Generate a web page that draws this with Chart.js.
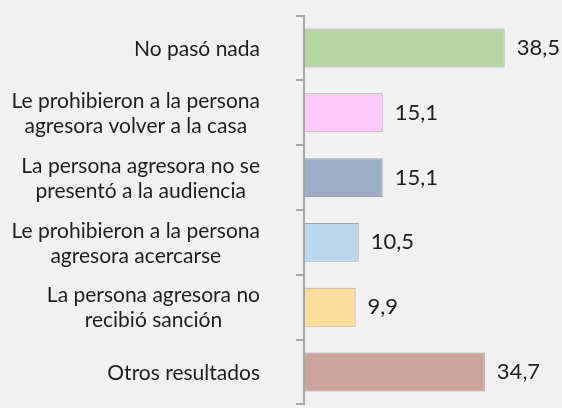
<!DOCTYPE html>
<html>
<head>
<meta charset="utf-8">
<script src="https://cdn.jsdelivr.net/npm/chart.js@4/dist/chart.umd.min.js"></script>
<style>
  html, body { margin: 0; padding: 0; background: #f1f1f1; overflow: hidden; }
  #wrap { position: relative; width: 562px; height: 420px; }
</style>
</head>
<body>
<div id="wrap"><canvas id="c"></canvas></div>
<script>
const categories = [
  ["No pasó nada"],
  ["Le prohibieron a la persona", "agresora volver a la casa"],
  ["La persona agresora no se", "presentó a la audiencia"],
  ["Le prohibieron a la persona", "agresora acercarse"],
  ["La persona agresora no", "recibió sanción"],
  ["Otros resultados"]
];
const values = [38.5, 15.1, 15.1, 10.5, 9.9, 34.7];
const barColors = ["#b5d5a5", "#fdc9fd", "#9eaec8", "#bad6ee", "#fddd9b", "#cca49b"];
const xMax = 49.5;

const FONT = "Lato, 'Open Sans', sans-serif";
const FSIZE = 21;
const VSIZE = 22;

const labelPlugin = {
  id: 'labels',
  afterDatasetsDraw(chart) {
    const ctx = chart.ctx;
    const ys = chart.scales.y;
    ctx.save();
    ctx.font = FSIZE + "px " + FONT;
    ctx.fillStyle = "#1e1e1e";
    ctx.textBaseline = "middle";
    // category labels: each block right-aligned, lines centered within block
    const blockRight = ys.right - 44;
    const lineH = 25;
    categories.forEach((lines, i) => {
      const y = ys.getPixelForValue(i) + 1;
      const w = Math.max(...lines.map(l => ctx.measureText(l).width));
      const cx = blockRight - w / 2;
      ctx.textAlign = "center";
      lines.forEach((l, k) => {
        const ly = y + (k - (lines.length - 1) / 2) * lineH;
        ctx.fillText(l, cx, ly);
      });
    });
    // value labels
    ctx.font = VSIZE + "px " + FONT;
    const meta = chart.getDatasetMeta(0);
    ctx.textAlign = "left";
    meta.data.forEach((bar, i) => {
      const txt = values[i].toFixed(1).replace(".", ",");
      ctx.fillText(txt, bar.x + 12, bar.y);
    });
    ctx.restore();
  }
};

new Chart(document.getElementById('c'), {
  type: 'bar',
  data: {
    labels: categories,
    datasets: [{
      data: values,
      backgroundColor: barColors,
      borderColor: "#a5a5a5",
      borderWidth: 1,
      borderSkipped: false,
      categoryPercentage: 0.6,
      barPercentage: 1.0
    }]
  },
  options: {
    indexAxis: 'y',
    responsive: true,
    maintainAspectRatio: false,
    animation: false,
    layout: { padding: { top: 14, bottom: 8, left: 0, right: 0 } },
    plugins: { legend: { display: false }, tooltip: { enabled: false } },
    scales: {
      x: { display: false, min: 0, max: xMax },
      y: {
        offset: true,
        border: { display: true, color: "#a8a8a8", width: 2 },
        grid: { display: true, drawOnChartArea: false, drawTicks: true, tickLength: 8, color: "#a8a8a8", lineWidth: 2, offset: true },
        ticks: { color: 'rgba(0,0,0,0)', font: { size: FSIZE, family: FONT } },
        afterFit(scale) { scale.width = 304; }
      }
    }
  },
  plugins: [labelPlugin]
});
</script>
</body>
</html>
